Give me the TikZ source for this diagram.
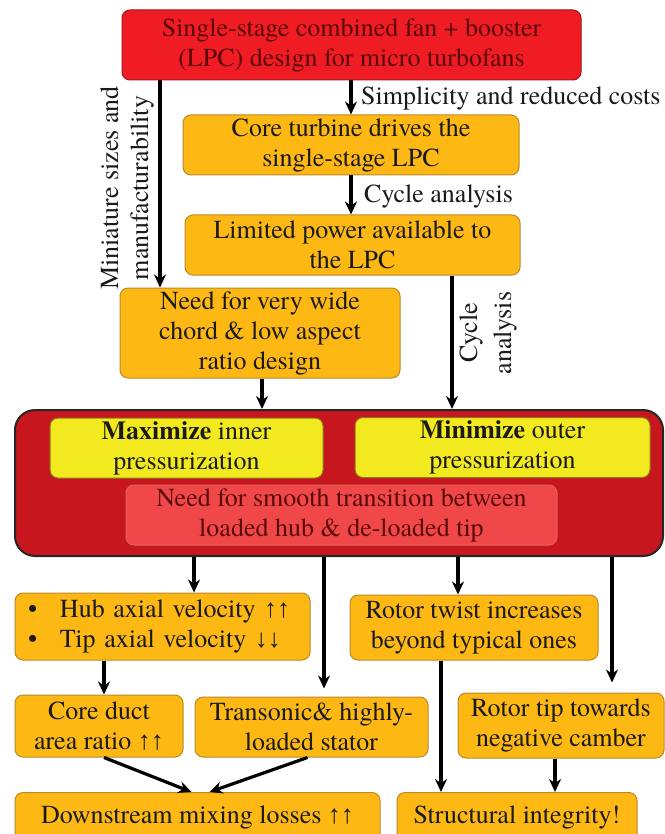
\documentclass[tikz,border=0pt]{standalone}
\usepackage{fontspec}
\setmainfont{TeX Gyre Termes}
\newfontfamily\arrowfont{Liberation Serif}
\usetikzlibrary{arrows.meta}
\definecolor{topred}{HTML}{EF1C24}
\definecolor{topredline}{HTML}{A3141B}
\definecolor{bigred}{HTML}{C8161E}
\definecolor{orangefill}{HTML}{FDB813}
\definecolor{orangeline}{HTML}{B9892C}
\definecolor{yellowfill}{HTML}{F2EA1E}
\definecolor{yellowline}{HTML}{8C7A22}
\definecolor{lightred}{HTML}{F04848}
\definecolor{lightredline}{HTML}{E06060}
\definecolor{darktext}{HTML}{5A0A0A}
\definecolor{blacktext}{HTML}{1A1A1A}
\newcommand{\uu}{{\arrowfont ↑↑}}
\newcommand{\dd}{{\arrowfont ↓↓}}
\tikzset{
  basebox/.style={draw, rounded corners=8pt, line width=1pt, align=center, inner sep=0pt,
    font=\fontsize{26}{30}\selectfont, text=blacktext},
  redbox/.style={basebox, fill=topred, draw=topredline, text=darktext},
  obox/.style={basebox, fill=orangefill, draw=orangeline},
  ybox/.style={basebox, fill=yellowfill, draw=yellowline},
  lrbox/.style={basebox, fill=lightred, draw=lightredline, text=darktext},
  bigbox/.style={draw=black!85, fill=bigred, rounded corners=20pt, line width=2pt, inner sep=0pt},
  arr/.style={-{Stealth[length=13pt,width=12pt]}, line width=3.2pt, black},
  lbl/.style={font=\fontsize{26}{30}\selectfont, text=blacktext, inner sep=0pt, align=center},
}
\begin{document}
\begin{tikzpicture}[x=1pt,y=-1pt]
\useasboundingbox[fill=white] (0,0) rectangle (664,834);

% top part
\node[redbox, minimum width=459pt, minimum height=70pt] (top) at (351.5,45)
  {Single-stage combined fan + booster\\(LPC) design for micro turbofans};
\node[obox, minimum width=336pt, minimum height=60pt] (core) at (351,145)
  {Core turbine drives the\\single-stage LPC};
\node[obox, minimum width=335pt, minimum height=60pt] (lim) at (352.5,245)
  {Limited power available to\\the LPC};
\node[obox, minimum width=280pt, minimum height=90pt] (need) at (260,333)
  {Need for very wide\\chord \& low aspect\\ratio design};

% big box
\node[bigbox, minimum width=648pt, minimum height=146pt] (big) at (339,483) {};
\node[ybox, minimum width=273pt, minimum height=60pt] (maxi) at (186.5,448)
  {\textbf{Maximize} inner\\pressurization};
\node[ybox, minimum width=295pt, minimum height=60pt] (mini) at (502.5,447.5)
  {\textbf{Minimize} outer\\pressurization};
\node[lrbox, minimum width=431pt, minimum height=60pt] (smooth) at (341.5,515)
  {Need for smooth transition between\\loaded hub \& de-loaded tip};

% lower boxes
\node[obox, minimum width=295pt, minimum height=67pt, text width=269pt, align=left] (hub) at (162.5,626.5)
  {\makebox[32pt][l]{•}Hub axial velocity \uu\\\makebox[32pt][l]{•}Tip axial velocity \dd};
\node[obox, minimum width=248pt, minimum height=65pt] (twist) at (474,627.5)
  {Rotor twist increases\\beyond typical ones};
\node[obox, minimum width=168pt, minimum height=62pt] (duct) at (99,726)
  {Core duct\\area ratio \uu};
\node[obox, minimum width=233pt, minimum height=60pt] (trans) at (311.5,727)
  {Transonic\& highly-\\loaded stator};
\node[obox, minimum width=206pt, minimum height=65pt] (tip) at (561,725.5)
  {Rotor tip towards\\negative camber};
\node[obox, minimum width=365pt, minimum height=50pt, anchor=north] (down) at (197.5,792)
  {Downstream mixing losses \uu};
\node[obox, minimum width=240pt, minimum height=50pt, anchor=north] (struct) at (517,792)
  {Structural integrity!};

% labels
\node[lbl, anchor=west] (l1) at (361,98) {Simplicity and reduced costs};
\node[lbl, anchor=west] (l2) at (364,196) {Cycle analysis};
\node[lbl, rotate=90] (l3) at (127,188) {Miniature sizes and\\manufacturability};
\node[lbl, rotate=90, font=\fontsize{26}{34}\selectfont] (l4) at (488,333) {Cycle\\analysis};

% x positions of connectors
\coordinate (xa) at (160,0);
\coordinate (xb) at (262,0);
\coordinate (xc) at (452,0);
\coordinate (xd) at (194,0);
\coordinate (xe) at (324,0);
\coordinate (xf) at (458,0);
\coordinate (xg) at (612,0);
\coordinate (xh) at (104,0);
\coordinate (xi) at (441,0);
\coordinate (xj) at (555,0);
\coordinate (xs) at (351,0);

% connectors
\draw[arr] (xs |- top.south) -- (xs |- core.north);
\draw[arr] (xs |- core.south) -- (xs |- lim.north);
\draw[arr] (xa |- top.south) -- (xa |- need.north);
\draw[arr] (xb |- need.south) -- (xb |- big.north);
\draw[arr] (xc |- lim.south) -- (xc |- big.north);
\draw[arr] (xd |- big.south) -- (xd |- hub.north);
\draw[arr, shorten >=8pt] (xe |- big.south) -- (xe |- trans.north);
\draw[arr] (xf |- big.south) -- (xf |- twist.north);
\draw[arr, shorten >=10pt] (xg |- big.south) -- (xg |- tip.north);
\draw[arr] (xh |- hub.south) -- (xh |- duct.north);
\draw[arr] (xi |- twist.south) -- (xi |- struct.north);
\draw[arr] (xj |- tip.south) -- (xj |- struct.north);
\draw[arr] (xh |- duct.south) -- ([xshift=-6pt]down.north);
\draw[arr] ([xshift=-4pt]trans.south) -- ([xshift=12pt]down.north);
\end{tikzpicture}
\end{document}
